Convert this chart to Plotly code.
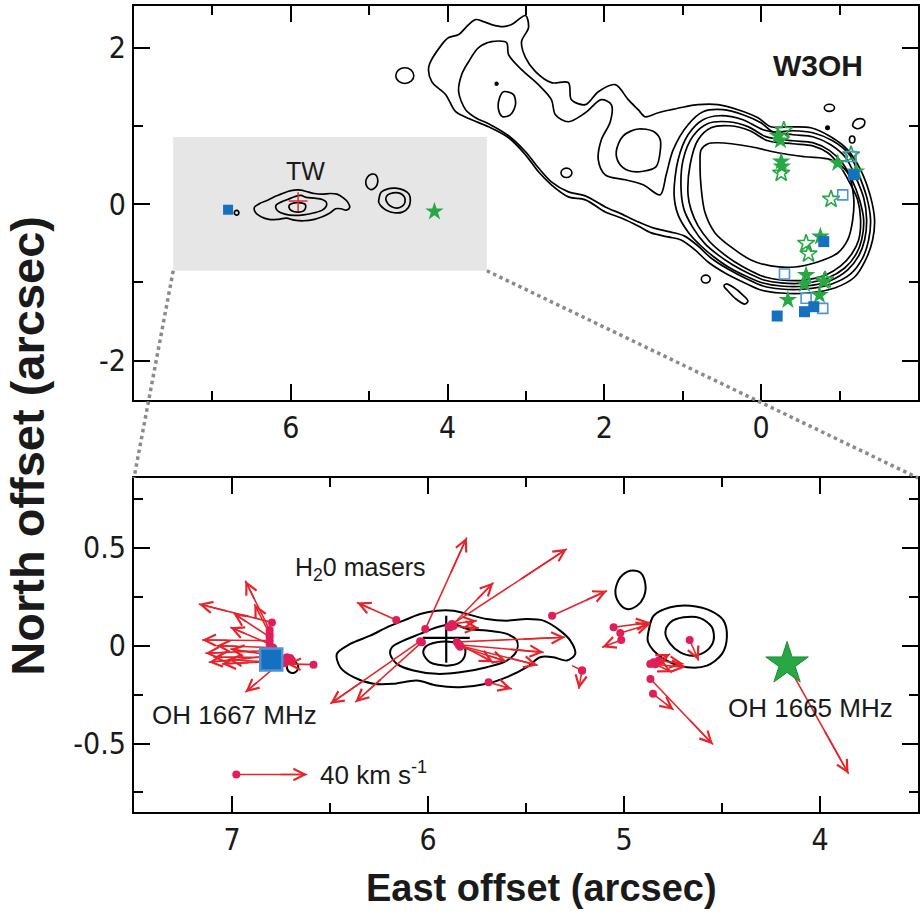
import plotly.graph_objects as go

# ---------------- axes / ticks (arcsec) ----------------
top_x_range = [8.0, -2.0]
top_y_range = [-2.5, 2.53]
zoom_x_range = [7.5, 3.5]
zoom_y_range = [-0.85, 0.857]

top_x_ticks = [6, 4, 2, 0]
top_x_ticktext = ["6", "4", "2", "0"]
top_x_minor = [7, 5, 3, 1, -1]
top_y_ticks = [2, 0, -2]
top_y_ticktext = ["2", "0", "-2"]
top_y_minor = [1, -1]
bot_x_ticks = [7, 6, 5, 4]
bot_x_ticktext = ["7", "6", "5", "4"]
bot_x_minor = [6.5, 5.5, 4.5]
bot_y_ticks = [0.5, 0, -0.5]
bot_y_ticktext = ["0.5", "0", "-0.5"]
bot_y_minor = [0.75, 0.25, -0.25, -0.75]

# ---------------- W3OH continuum contours (top panel) ----------------
w3oh_c1_x = [4.240, 4.075, 3.986, 3.859, 3.732, 3.643, 3.541, 3.439, 3.287, 3.185, 3.006, 2.968, 3.057, 3.006,
             2.879, 2.676, 2.459, 2.421, 2.243, 2.078, 1.861, 1.696, 1.569, 1.480, 1.314, 1.149, 0.971, 0.805,
             0.551, 0.296, 0.042, -0.123, -0.378, -0.632, -0.887, -1.103, -1.268, -1.395, -1.446, -1.421,
             -1.332, -1.192, -0.938, -0.594, -0.251, 0.004, 0.208, 0.462, 0.678, 0.844, 1.022, 1.187, 1.403,
             1.569, 1.785, 1.989, 2.243, 2.459, 2.676, 2.841, 3.006, 3.222, 3.477, 3.693, 3.897, 4.024, 4.202]
w3oh_c1_y = [1.756, 2.037, 2.127, 2.165, 2.293, 2.357, 2.331, 2.293, 2.267, 2.293, 2.408, 2.254, 2.075, 1.871,
             1.692, 1.551, 1.551, 1.334, 1.270, 1.436, 1.526, 1.334, 1.206, 1.116, 1.167, 1.206, 1.244, 1.270,
             1.270, 1.206, 1.103, 0.988, 0.988, 0.976, 0.861, 0.694, 0.439, 0.093, -0.201, -0.457, -0.712,
             -0.930, -1.070, -1.134, -1.134, -1.096, -1.006, -0.878, -0.738, -0.584, -0.457, -0.418, -0.367,
             -0.278, -0.176, -0.099, 0.055, 0.093, 0.247, 0.413, 0.630, 0.848, 0.988, 1.078, 1.180, 1.398, 1.564]

w3oh_c2_x = [3.859, 3.821, 3.732, 3.605, 3.439, 3.248, 3.223, 3.057, 2.841, 2.676, 2.625, 2.459, 2.243, 2.039,
             1.912, 1.925, 2.039, 2.078, 1.989, 1.734, 1.505, 1.289, 1.212, 1.123, 0.933, 0.742, 0.487, 0.233,
             0.004, -0.149, -0.404, -0.658, -0.912, -1.128, -1.230, -1.345, -1.395, -1.370, -1.294, -1.141,
             -0.900, -0.569, -0.251, -0.023, 0.182, 0.424, 0.640, 0.805, 0.983, 1.162, 1.378, 1.569, 1.785,
             1.989, 2.243, 2.459, 2.676, 2.841, 3.006, 3.223, 3.477, 3.643, 3.770]
w3oh_c2_y = [1.435, 1.653, 1.819, 1.998, 2.075, 2.062, 1.909, 1.717, 1.525, 1.334, 1.142, 1.052, 1.167, 1.334,
             1.270, 1.052, 0.822, 0.566, 0.375, 0.311, 0.247, 0.119, 0.375, 0.694, 1.014, 1.180, 1.206, 1.142,
             1.040, 0.925, 0.937, 0.912, 0.809, 0.630, 0.413, 0.093, -0.201, -0.457, -0.687, -0.891, -1.019,
             -1.083, -1.083, -1.045, -0.955, -0.828, -0.687, -0.534, -0.405, -0.354, -0.303, -0.226, -0.124,
             -0.035, 0.106, 0.157, 0.285, 0.464, 0.669, 0.873, 1.027, 1.104, 1.206]

w3oh_c3_x = [1.111, 1.060, 0.933, 0.742, 0.525, 0.233, -0.023, -0.404, -0.658, -0.887, -1.078, -1.192, -1.307,
             -1.345, -1.319, -1.243, -1.103, -0.874, -0.569, -0.251, -0.023, 0.169, 0.398, 0.602, 0.767, 0.933,
             1.060]
w3oh_c3_y = [0.119, 0.566, 0.886, 1.078, 1.129, 1.078, 0.950, 0.886, 0.861, 0.758, 0.592, 0.375, 0.081, -0.201,
             -0.457, -0.661, -0.840, -0.981, -1.045, -1.045, -1.006, -0.930, -0.815, -0.674, -0.534, -0.354,
             -0.137]

w3oh_c4_x = [1.022, 0.996, 0.869, 0.678, 0.424, 0.169, -0.060, -0.404, -0.658, -0.874, -1.039, -1.154, -1.256,
             -1.307, -1.281, -1.205, -1.065, -0.849, -0.569, -0.251, -0.034, 0.144, 0.360, 0.551, 0.716, 0.869,
             0.983]
w3oh_c4_y = [0.183, 0.566, 0.870, 1.030, 1.052, 0.990, 0.862, 0.810, 0.785, 0.683, 0.520, 0.320, 0.050, -0.201,
             -0.457, -0.648, -0.815, -0.942, -1.006, -1.006, -0.968, -0.891, -0.776, -0.648, -0.508, -0.303,
             -0.073]

w3oh_c5_x = [0.933, 0.907, 0.805, 0.640, 0.398, 0.144, -0.085, -0.404, -0.658, -0.849, -1.001, -1.116, -1.230,
             -1.268, -1.243, -1.154, -1.014, -0.823, -0.569, -0.251, -0.047, 0.131, 0.335, 0.513, 0.665, 0.805,
             0.894]
w3oh_c5_y = [0.119, 0.503, 0.822, 0.976, 1.001, 0.937, 0.809, 0.771, 0.745, 0.656, 0.490, 0.298, 0.055, -0.201,
             -0.457, -0.636, -0.789, -0.904, -0.968, -0.968, -0.930, -0.853, -0.738, -0.610, -0.470, -0.278,
             -0.073]

w3oh_c6_x = [0.780, 0.767, 0.678, 0.551, 0.131, -0.213, -0.556, -0.887, -1.103, -1.179, -1.167, -1.103, -0.976,
             -0.721, -0.429, -0.123, 0.131, 0.386, 0.589, 0.716, 0.767]
w3oh_c6_y = [0.528, 0.694, 0.771, 0.784, 0.733, 0.656, 0.605, 0.566, 0.400, 0.093, -0.201, -0.457, -0.623,
             -0.738, -0.802, -0.789, -0.712, -0.546, -0.367, -0.111, 0.221]

w3oh_lobe_x = [1.849, 1.760, 1.569, 1.378, 1.290, 1.290, 1.340, 1.505, 1.696, 1.811]
w3oh_lobe_y = [0.669, 0.873, 0.960, 0.930, 0.830, 0.660, 0.480, 0.420, 0.430, 0.520]

w3oh_isl2_x = [3.286, 3.159, 3.134, 3.197, 3.299, 3.350, 3.337]
w3oh_isl2_y = [1.436, 1.398, 1.270, 1.142, 1.117, 1.206, 1.359]
w3oh_isl5_x = [0.449, 0.360, 0.233, 0.169, 0.207, 0.322, 0.424, 0.475]
w3oh_isl5_y = [-1.019, -1.058, -1.160, -1.237, -1.275, -1.211, -1.109, -1.045]
w3oh_isl7_x = [-1.167, -1.192, -1.268, -1.319, -1.307, -1.230]
w3oh_isl7_y = [1.001, 1.065, 1.091, 1.065, 1.001, 0.963]

# small elliptical islands: centre x, centre y, half-width, half-height
island_cx = [4.546, 2.484, 0.707, -0.870, -1.160, 3.375, -0.846]
island_cy = [1.641, 0.400, -0.956, 1.230, 0.826, 1.538, 0.975]
island_rx = [0.115, 0.070, 0.057, 0.065, 0.035, 0.018, 0.022]
island_ry = [0.100, 0.060, 0.050, 0.045, 0.045, 0.018, 0.022]
island_filled = [False, False, False, False, False, True, True]

# ---------------- TW region contours (both panels) ----------------
tw_outer_x = [6.465, 6.448, 6.380, 6.278, 6.176, 6.057, 5.955, 5.836, 5.700, 5.598, 5.496, 5.428, 5.360, 5.292,
              5.249, 5.274, 5.326, 5.411, 5.496, 5.598, 5.700, 5.802, 5.870, 5.955, 6.040, 6.125, 6.210, 6.295,
              6.397]
tw_outer_y = [-0.042, -0.110, -0.161, -0.195, -0.195, -0.178, -0.204, -0.212, -0.195, -0.161, -0.110, -0.059,
              -0.059, -0.076, -0.042, 0.026, 0.077, 0.128, 0.136, 0.128, 0.136, 0.162, 0.179, 0.179, 0.162,
              0.128, 0.094, 0.051, 0.009]
tw_mid_x = [6.193, 6.159, 6.074, 5.955, 5.836, 5.700, 5.598, 5.547, 5.547, 5.598, 5.700, 5.802, 5.870, 5.955,
            6.040, 6.125, 6.184]
tw_mid_y = [-0.042, -0.093, -0.127, -0.144, -0.136, -0.110, -0.076, -0.025, 0.026, 0.060, 0.077, 0.086, 0.111,
            0.094, 0.060, 0.026, -0.008]
tw_inner_x = [6.023, 5.989, 5.904, 5.836, 5.810, 5.819, 5.870, 5.955, 6.015]
tw_inner_y = [-0.042, -0.085, -0.102, -0.085, -0.042, 0.000, 0.017, 0.017, -0.008]
blob_a_x = [5.044, 5.019, 4.968, 4.917, 4.891, 4.900, 4.934, 4.985, 5.027]
blob_a_y = [0.281, 0.349, 0.383, 0.374, 0.315, 0.247, 0.204, 0.187, 0.221]
blob_b_outer_x = [4.874, 4.849, 4.764, 4.662, 4.560, 4.492, 4.475, 4.500, 4.577, 4.679, 4.781, 4.849, 4.879]
blob_b_outer_y = [0.077, 0.153, 0.196, 0.204, 0.179, 0.128, 0.043, -0.042, -0.102, -0.110, -0.077, -0.025, 0.026]
blob_b_inner_x = [4.789, 4.764, 4.696, 4.611, 4.551, 4.543, 4.577, 4.645, 4.713, 4.764]
blob_b_inner_y = [0.068, 0.119, 0.145, 0.141, 0.094, 0.026, -0.025, -0.051, -0.034, 0.009]
blob_c_x = [6.720, 6.710, 6.686, 6.665, 6.664, 6.682, 6.708]
blob_c_y = [-0.111, -0.087, -0.080, -0.097, -0.121, -0.138, -0.134]

# continuum peak cross (TW): centre and extents
cross_x, cross_y = 5.907, 0.040
cross_dx = 0.120
cross_dy_up, cross_dy_down = 0.113, 0.127

# ---------------- OH masers ----------------
oh1665_fill_x = [-0.212, -0.246, -0.255, -0.264, -0.976, -1.209, -0.755, -0.573, -0.552, -0.798, -0.340, -0.743]
oh1665_fill_y = [0.874, 0.814, 0.545, 0.481, 0.524, 0.418, -0.414, -0.904, -1.019, -0.989, -1.223, -1.160]
oh1665_open_x = [-0.289, -0.255, -1.146, -0.891, -0.573, -0.603, -0.815]
oh1665_open_y = [0.942, 0.396, 0.631, 0.064, -0.499, -0.635, -0.968]
oh1667_open_x = [-1.146, -1.040, -0.297, -0.573, -0.785]
oh1667_open_y = [0.609, 0.119, -0.891, -1.202, -1.330]
oh1667_fill_x = [-1.180, -0.798, -0.671, -0.552, -0.204]
oh1667_fill_y = [0.375, -0.478, -1.309, -1.373, -1.428]

tw_oh1667_x, tw_oh1667_y = 6.80, -0.071
tw_oh1665_x, tw_oh1665_y = 4.168, -0.093

# ---------------- H2O maser proper motions (start -> end, arcsec) ----------------
h2o_x0 = [6.796, 6.808, 6.808, 6.808, 6.808, 6.808, 6.805, 6.788, 6.720, 6.694, 6.584, 6.771, 6.703, 6.790, 6.730,
          6.162, 6.014, 5.895, 5.887, 5.878, 5.870, 6.040, 6.031, 5.853, 5.844, 5.844, 5.836, 5.836, 5.691, 5.367,
          5.214, 5.214,
          5.053, 5.019, 5.014, 4.866, 4.849, 4.823, 4.840, 4.665, 4.865, 4.852]
h2o_y0 = [0.119, 0.080, 0.060, 0.045, 0.026, 0.009, -0.025, -0.051, -0.059, -0.076, -0.097, -0.102, -0.063, -0.010,
          -0.090,
          0.131, 0.085, 0.097, 0.094, 0.111, 0.100, 0.023, 0.018, 0.019, 0.009, 0.005, 0.000, -0.005, -0.187, 0.153,
          -0.127, -0.127,
          0.094, 0.065, 0.029, -0.094, -0.085, -0.076, -0.095, 0.029, -0.170, -0.246]
h2o_x1 = [7.170, 6.932, 6.886, 6.992, 7.153, 7.009, 7.136, 7.119, 7.094, 7.051, 6.720, 6.932, 7.009, 7.080, 7.020,
          6.363, 5.802, 5.291, 5.666, 5.751, 5.740, 6.499, 6.371, 5.300, 5.666, 5.410, 5.440, 5.600, 5.572, 5.087,
          5.231, 5.265,
          4.866, 4.866, 5.112, 4.687, 4.764, 4.696, 4.755, 4.619, 4.546, 4.747]
h2o_y1 = [0.213, 0.332, 0.213, 0.165, 0.029, 0.094, -0.039, -0.085, -0.059, -0.093, -0.093, -0.238, -0.017, 0.000,
          -0.070,
          0.221, 0.553, 0.495, 0.323, 0.128, 0.090, -0.297, -0.289, 0.043, -0.085, -0.034, -0.100, -0.080, -0.221,
          0.281, -0.221, -0.102,
          0.119, 0.111, -0.008, -0.110, -0.042, -0.093, -0.136, -0.076, -0.505, -0.328]

# OH 1665 MHz motion and the 40 km/s scale arrow
oh_arrow = [4.168, -0.093, 3.854, -0.655]
scale_arrow = [6.978, -0.658, 6.616, -0.658]

# ---------------- styling ----------------
GREEN = "#27a844"
BLUE = "#1570bf"
LIGHTBLUE = "#4f93d6"
RED = "#e4262c"
DOTRED = "#e01f5a"
TICKFONT = "Liberation Sans Narrow, DejaVu Sans Condensed, Liberation Sans, Arial, sans-serif"
TEXTFONT = "Liberation Sans, Arial, Helvetica, sans-serif"

top_dom_x, top_dom_y = [0.0, 1.0], [0.5112, 1.0]
bot_dom_x, bot_dom_y = [0.0, 1.0], [0.0, 0.4144]

fig = go.Figure()


def closed(a):
    return list(a) + [a[0]]


def add_line(xs, ys, ax, width, color="black"):
    fig.add_trace(go.Scatter(
        x=closed(xs), y=closed(ys), mode="lines",
        line=dict(color=color, width=width, shape="spline", smoothing=0.9),
        xaxis="x" if ax == 1 else "x2", yaxis="y" if ax == 1 else "y2",
        hoverinfo="skip", showlegend=False))


# top panel W3OH contours
for cx, cy in [(w3oh_c1_x, w3oh_c1_y), (w3oh_c2_x, w3oh_c2_y), (w3oh_c3_x, w3oh_c3_y),
               (w3oh_c4_x, w3oh_c4_y), (w3oh_c5_x, w3oh_c5_y), (w3oh_c6_x, w3oh_c6_y),
               (w3oh_lobe_x, w3oh_lobe_y), (w3oh_isl2_x, w3oh_isl2_y), (w3oh_isl5_x, w3oh_isl5_y),
               (w3oh_isl7_x, w3oh_isl7_y)]:
    add_line(cx, cy, 1, 1.7)

tw_contours = [(tw_outer_x, tw_outer_y), (tw_mid_x, tw_mid_y), (tw_inner_x, tw_inner_y),
               (blob_a_x, blob_a_y), (blob_b_outer_x, blob_b_outer_y), (blob_b_inner_x, blob_b_inner_y),
               (blob_c_x, blob_c_y)]
for cx, cy in tw_contours:
    add_line(cx, cy, 1, 1.7)
    add_line(cx, cy, 2, 2.0)

# crosses
for ax, col, th in [(1, RED, 1.5), (2, "black", 2.2)]:
    fig.add_trace(go.Scatter(
        x=[cross_x], y=[cross_y], mode="markers", marker=dict(size=1, color="rgba(0,0,0,0)"),
        error_x=dict(type="data", array=[cross_dx], symmetric=True, width=0, thickness=th, color=col),
        error_y=dict(type="data", array=[cross_dy_up], arrayminus=[cross_dy_down], symmetric=False,
                     width=0, thickness=th, color=col),
        xaxis="x" if ax == 1 else "x2", yaxis="y" if ax == 1 else "y2", hoverinfo="skip", showlegend=False))

# top-panel OH masers
fig.add_trace(go.Scatter(x=oh1665_open_x, y=oh1665_open_y, mode="markers", xaxis="x", yaxis="y",
                         marker=dict(symbol="star-open", size=13, color=GREEN, line=dict(width=1.6, color=GREEN)),
                         showlegend=False, hoverinfo="skip"))
fig.add_trace(go.Scatter(x=oh1665_fill_x, y=oh1665_fill_y, mode="markers", xaxis="x", yaxis="y",
                         marker=dict(symbol="star", size=14, color=GREEN, line=dict(width=0)),
                         showlegend=False, hoverinfo="skip"))
fig.add_trace(go.Scatter(x=oh1667_open_x, y=oh1667_open_y, mode="markers", xaxis="x", yaxis="y",
                         marker=dict(symbol="square-open", size=10, color=LIGHTBLUE, line=dict(width=1.6, color=BLUE)),
                         showlegend=False, hoverinfo="skip"))
fig.add_trace(go.Scatter(x=oh1667_fill_x, y=oh1667_fill_y, mode="markers", xaxis="x", yaxis="y",
                         marker=dict(symbol="square", size=11, color=BLUE, line=dict(width=0)),
                         showlegend=False, hoverinfo="skip"))
fig.add_trace(go.Scatter(x=[tw_oh1667_x], y=[tw_oh1667_y], mode="markers", xaxis="x", yaxis="y",
                         marker=dict(symbol="square", size=10, color=BLUE, line=dict(width=0)),
                         showlegend=False, hoverinfo="skip"))
fig.add_trace(go.Scatter(x=[tw_oh1665_x], y=[tw_oh1665_y], mode="markers", xaxis="x", yaxis="y",
                         marker=dict(symbol="star", size=14, color=GREEN, line=dict(width=0)),
                         showlegend=False, hoverinfo="skip"))

# bottom panel: arrow shafts
sx, sy = [], []
for a, b, c, d in zip(h2o_x0, h2o_y0, h2o_x1, h2o_y1):
    sx += [a, c, None]
    sy += [b, d, None]
for arr in (oh_arrow, scale_arrow):
    sx += [arr[0], arr[2], None]
    sy += [arr[1], arr[3], None]
fig.add_trace(go.Scatter(x=sx, y=sy, mode="lines", line=dict(color=RED, width=1.6), xaxis="x2", yaxis="y2",
                         showlegend=False, hoverinfo="skip"))
fig.add_trace(go.Scatter(x=h2o_x0 + [scale_arrow[0]], y=h2o_y0 + [scale_arrow[1]], mode="markers",
                         marker=dict(size=8, color=DOTRED), xaxis="x2", yaxis="y2",
                         showlegend=False, hoverinfo="skip"))

# bottom panel OH masers
fig.add_trace(go.Scatter(x=[tw_oh1667_x], y=[tw_oh1667_y], mode="markers", xaxis="x2", yaxis="y2",
                         marker=dict(symbol="square", size=22, color=BLUE, line=dict(width=2.5, color=LIGHTBLUE)),
                         showlegend=False, hoverinfo="skip"))
fig.add_trace(go.Scatter(x=[tw_oh1665_x], y=[tw_oh1665_y], mode="markers", xaxis="x2", yaxis="y2",
                         marker=dict(symbol="star", size=32, color=GREEN, line=dict(width=1, color="#1f8a38")),
                         showlegend=False, hoverinfo="skip"))

# arrow heads
heads = list(zip(h2o_x0, h2o_y0, h2o_x1, h2o_y1)) + [tuple(oh_arrow), tuple(scale_arrow)]
for a, b, c, d in heads:
    fig.add_annotation(x=c, y=d, ax=c + 0.4 * (a - c), ay=d + 0.4 * (b - d), xref="x2", yref="y2",
                       axref="x2", ayref="y2", text="", showarrow=True, arrowhead=5, arrowsize=1.4,
                       arrowwidth=1.6, arrowcolor=RED, standoff=0)

# text labels
labels = [
    ("x", "y", -0.72, 1.77, "<b>W3OH</b>", 30, "center"),
    ("x", "y", 5.816, 0.426, "TW", 25, "center"),
    ("x2", "y2", 6.345, 0.393, "H<sub>2</sub>0 masers", 25, "center"),
    ("x2", "y2", 6.988, -0.352, "OH 1667 MHz", 26, "center"),
    ("x2", "y2", 4.049, -0.316, "OH 1665 MHz", 26, "center"),
    ("x2", "y2", 6.560, -0.653, "40 km s<sup>-1</sup>", 26, "left"),
]
for xr, yr, x, y, t, s, anc in labels:
    fig.add_annotation(x=x, y=y, xref=xr, yref=yr, text=t, showarrow=False, xanchor=anc, yanchor="middle",
                       font=dict(family=TEXTFONT, size=s, color="#1a1a1a"))

# axis titles
fig.add_annotation(x=-0.136, y=0.455, xref="paper", yref="paper", text="<b>North offset (arcsec)</b>",
                   textangle=-90, showarrow=False, xanchor="center", yanchor="middle",
                   font=dict(family=TEXTFONT, size=47, color="#1a1a1a"))
fig.add_annotation(x=0.520, y=-0.094, xref="paper", yref="paper", text="<b>East offset (arcsec)</b>",
                   showarrow=False, xanchor="center", yanchor="middle",
                   font=dict(family=TEXTFONT, size=38, color="#1a1a1a"))

# shapes: grey zoom box, islands, dotted connectors
shapes = [dict(type="rect", xref="x", yref="y", x0=zoom_x_range[0], x1=zoom_x_range[1],
               y0=zoom_y_range[0], y1=zoom_y_range[1], fillcolor="#e6e6e6", line=dict(width=0), layer="below")]
for cx, cy, rx, ry, f in zip(island_cx, island_cy, island_rx, island_ry, island_filled):
    shapes.append(dict(type="circle", xref="x", yref="y", x0=cx - rx, x1=cx + rx, y0=cy - ry, y1=cy + ry,
                       line=dict(color="black", width=1.6), fillcolor="black" if f else "rgba(0,0,0,0)"))


def to_paper(xv, yv, xr, yr, xd, yd):
    fx = (xv - xr[0]) / (xr[1] - xr[0])
    fy = (yv - yr[0]) / (yr[1] - yr[0])
    return xd[0] + fx * (xd[1] - xd[0]), yd[0] + fy * (yd[1] - yd[0])


for xv in zoom_x_range:
    p0 = to_paper(xv, zoom_y_range[0], top_x_range, top_y_range, top_dom_x, top_dom_y)
    p1 = to_paper(xv, zoom_y_range[1], zoom_x_range, zoom_y_range, bot_dom_x, bot_dom_y)
    shapes.append(dict(type="line", xref="paper", yref="paper", x0=p0[0], y0=p0[1], x1=p1[0], y1=p1[1],
                       line=dict(color="#8a8a8a", width=3.5, dash="dot"), layer="above"))

axis_common = dict(showline=True, linecolor="black", linewidth=2, mirror="allticks", ticks="inside",
                   ticklen=16, tickwidth=2, tickcolor="black", showgrid=False, zeroline=False,
                   tickfont=dict(family=TICKFONT, size=30, color="#1a1a1a"), tickmode="array", fixedrange=True)


def minor(vals):
    return dict(tickmode="array", tickvals=vals, ticks="inside", ticklen=9, tickwidth=2, tickcolor="black",
                showgrid=False)


fig.update_layout(
    width=921, height=914, margin=dict(l=134, r=1, t=6, b=102),
    paper_bgcolor="white", plot_bgcolor="white", showlegend=False,
    xaxis=dict(axis_common, domain=top_dom_x, range=top_x_range, anchor="y", tickvals=top_x_ticks,
               ticktext=top_x_ticktext, minor=minor(top_x_minor)),
    yaxis=dict(axis_common, domain=top_dom_y, range=top_y_range, anchor="x", tickvals=top_y_ticks,
               ticktext=top_y_ticktext, minor=minor(top_y_minor)),
    xaxis2=dict(axis_common, domain=bot_dom_x, range=zoom_x_range, anchor="y2", tickvals=bot_x_ticks,
                ticktext=bot_x_ticktext, minor=minor(bot_x_minor)),
    yaxis2=dict(axis_common, domain=bot_dom_y, range=zoom_y_range, anchor="x2", tickvals=bot_y_ticks,
                ticktext=bot_y_ticktext, minor=minor(bot_y_minor)),
    shapes=shapes,
)

fig.write_html("out.html", config={"displayModeBar": False},
               post_script="document.body.style.margin='0';document.body.style.overflow='hidden';")
